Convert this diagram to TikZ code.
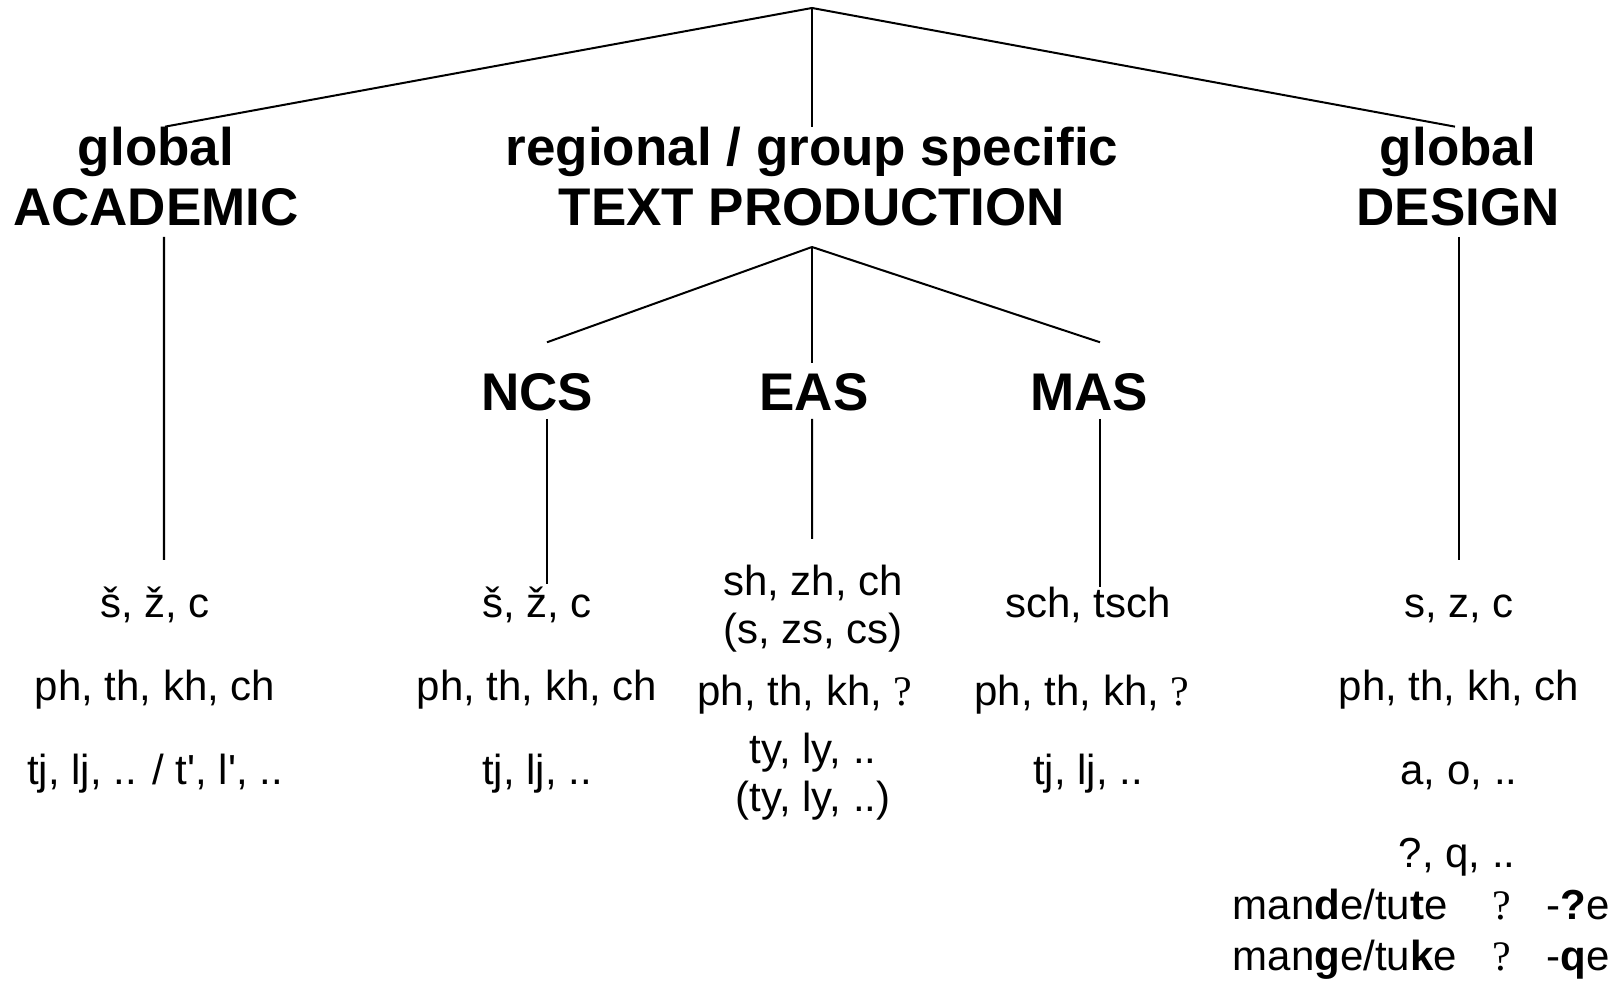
\documentclass[tikz,border=0pt]{standalone}
\usepackage{fontspec}
\setmainfont{Liberation Sans}
\newfontfamily\qfont{Liberation Serif}

\tikzset{
  head/.style={font=\fontsize{15.08}{17.07}\selectfont\bfseries, align=center, inner sep=0pt},
  group/.style={font=\fontsize{15.08}{17.07}\selectfont\bfseries, inner sep=0pt, anchor=base},
  item/.style={font=\fontsize{11.95}{14}\selectfont, inner sep=0pt, anchor=base},
  branch/.style={line width=0.57pt}
}

\begin{document}
\begin{tikzpicture}
\useasboundingbox (0,0) rectangle (16.16,9.82);

  \coordinate (root) at (8.12,9.74);

  \node[head, anchor=south] (acad) at (1.56,7.55) {global\\ACADEMIC};
  \node[head, anchor=south] (tp) at (8.12,7.55) {regional / group specific\\TEXT PRODUCTION};
  \node[head, anchor=south] (design) at (14.58,7.55) {global\\DESIGN};

  \node[group] (ncs) at (5.37,5.71) {NCS};
  \node[group] (eas) at (8.14,5.71) {EAS};
  \node[group] (mas) at (10.89,5.71) {MAS};

  % academic
  \node[item] (acadA) at (1.55,3.64) {š, ž, c};
  \node[item] (acadB) at (1.55,2.81) {ph, th, kh, ch};
  \node[item] (acadC) at (1.55,1.97) {tj, lj, .. / t\textquotesingle, l\textquotesingle, ..};

  % NCS
  \node[item] (ncsA) at (5.37,3.64) {š, ž, c};
  \node[item] (ncsB) at (5.37,2.81) {ph, th, kh, ch};
  \node[item] (ncsC) at (5.37,1.97) {tj, lj, ..};

  % EAS
  \node[item] (easA) at (8.13,3.86) {sh, zh, ch};
  \node[item] (easB) at (8.13,3.38) {(s, zs, cs)};
  \node[item] (easC) at (8.05,2.76) {ph, th, kh, {\qfont ?}};
  \node[item] (easD) at (8.13,2.18) {ty, ly, ..};
  \node[item] (easE) at (8.13,1.70) {(ty, ly, ..)};

  % MAS
  \node[item] (masA) at (10.88,3.64) {sch, tsch};
  \node[item] (masB) at (10.82,2.76) {ph, th, kh, {\qfont ?}};
  \node[item] (masC) at (10.88,1.97) {tj, lj, ..};

  % design
  \node[item] (desA) at (14.59,3.64) {s, z, c};
  \node[item] (desB) at (14.59,2.81) {ph, th, kh, ch};
  \node[item] (desC) at (14.59,1.97) {a, o, ..};
  \node[item] (desD) at (14.57,1.14) {?, q, ..};
  \node[item, anchor=base west] (desE) at (12.32,0.62)
    {\makebox[2.60cm][l]{man\textbf{d}e/tu\textbf{t}e}\makebox[0.54cm][l]{\qfont ?}-\textbf{?}e};
  \node[item, anchor=base west] (desF) at (12.32,0.11)
    {\makebox[2.60cm][l]{man\textbf{g}e/tu\textbf{k}e}\makebox[0.54cm][l]{\qfont ?}-\textbf{q}e};

  \draw[branch] (root) -- ([xshift=0.09cm]acad.north);
  \draw[branch] (root) -- (tp.north);
  \draw[branch] (root) -- ([xshift=-0.03cm]design.north);

  \coordinate (fork) at ([yshift=-0.2cm]tp.south);
  \draw[branch] (fork) -- ([xshift=0.10cm,yshift=0.31cm]ncs.north);
  \draw[branch] (fork) -- ([xshift=-0.02cm,yshift=0.10cm]eas.north);
  \draw[branch] (fork) -- ([xshift=0.11cm,yshift=0.31cm]mas.north);

  \draw[branch] ([xshift=0.08cm,yshift=-0.1cm]acad.south) -- ([xshift=0.09cm,yshift=0.58cm]acadA.base);
  \draw[branch] ([xshift=0.10cm,yshift=-0.08cm]ncs.base) -- ([xshift=0.10cm,yshift=0.34cm]ncsA.base);
  \draw[branch] ([xshift=-0.02cm,yshift=-0.08cm]eas.base) -- ([xshift=-0.01cm,yshift=0.57cm]easA.base);
  \draw[branch] ([xshift=0.11cm,yshift=-0.08cm]mas.base) -- ([xshift=0.12cm,yshift=0.31cm]masA.base);
  \draw[branch] ([xshift=0.01cm,yshift=-0.1cm]design.south) -- ([yshift=0.58cm]desA.base);

\end{tikzpicture}
\end{document}
